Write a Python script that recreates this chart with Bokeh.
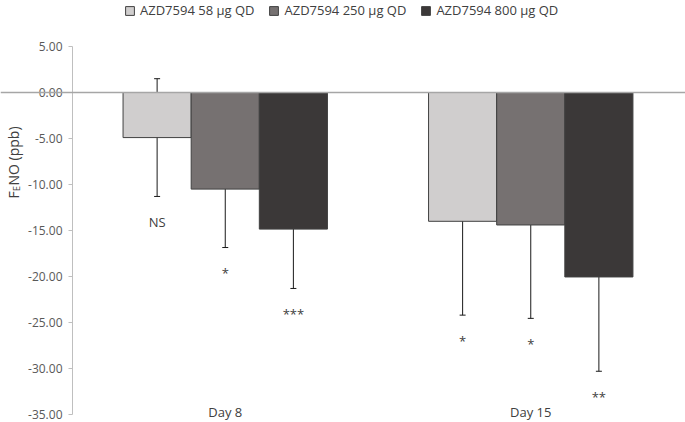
import math
from bokeh.plotting import figure
from bokeh.models import (ColumnDataSource, Range1d, FixedTicker,
                          PrintfTickFormatter, Whisker, TeeHead, Span, Legend,
                          LegendItem, Label, LabelSet)
from bokeh.transform import dodge
from bokeh.core.properties import value
from bokeh.embed import file_html
from bokeh.resources import INLINE

# ---------------- data ----------------
days = ["Day 8", "Day 15"]
series_names = ["AZD7594 58 µg QD", "AZD7594 250 µg QD", "AZD7594 800 µg QD"]
mean_58 = [-4.9, -14.0]
mean_250 = [-10.5, -14.4]
mean_800 = [-14.85, -20.05]
sd_58 = [6.4, 10.2]
sd_250 = [6.35, 10.15]
sd_800 = [6.45, 10.25]
sig_58 = ["NS", "*"]
sig_250 = ["*", "*"]
sig_800 = ["***", "**"]
y_ticks = [5, 0, -5, -10, -15, -20, -25, -30, -35]
y_label_main = "F"
y_label_sub = "E"
y_label_rest = "NO (ppb)"

# ---------------- style / layout ----------------
FONT = "Open Sans"
colors = ["#D0CECE", "#767171", "#3B3838"]
offsets = [-0.223, 0.0, 0.223]
bar_w = 0.223
W, H = 685, 422
PX_X = 305.5            # pixels per category
PX_Y = 9.2              # pixels per y unit
AXIS_PX = 72            # pixel x of the value axis
TOP_PX = 46             # pixel y of the value 5
text_col = "#404040"

x_start = -AXIS_PX / PX_X
x_end = x_start + W / PX_X
y_end = 5 + TOP_PX / PX_Y
y_start = y_end - H / PX_Y

x_centers = [i + 0.5 for i in range(len(days))]   # category slots on the axis

p = figure(x_range=Range1d(x_start, x_end), y_range=Range1d(y_start, y_end),
           width=W, height=H, output_backend="svg", toolbar_location=None,
           x_axis_location=None, min_border=0,
           min_border_left=0, min_border_right=0,
           min_border_top=0, min_border_bottom=0)
p.grid.visible = False
p.outline_line_color = None
p.background_fill_color = "white"

ax = p.yaxis[0]
ax.fixed_location = 0
ax.bounds = (min(y_ticks), max(y_ticks))
ax.ticker = FixedTicker(ticks=y_ticks)
ax.formatter = PrintfTickFormatter(format="%.2f")
ax.axis_line_color = "#BFBFBF"
ax.major_tick_line_color = "#BFBFBF"
ax.major_tick_out = 4
ax.major_tick_in = 0
ax.minor_tick_line_color = None
ax.major_label_text_font = FONT
ax.major_label_text_font_size = "12px"
ax.major_label_text_color = "#595959"
ax.major_label_standoff = 6

means = [mean_58, mean_250, mean_800]
sds = [sd_58, sd_250, sd_800]
sigs = [sig_58, sig_250, sig_800]

items = []
for name, m, s, sig, c, off in zip(series_names, means, sds, sigs, colors, offsets):
    src = ColumnDataSource(dict(
        x=x_centers, mean=m,
        upper=[a + b for a, b in zip(m, s)],
        lower=[a - b for a, b in zip(m, s)],
        sig=sig,
        sig_y=[a - b - 1.8 for a, b in zip(m, s)],
    ))
    xpos = dodge("x", off)
    r = p.vbar(x=xpos, top="mean", bottom=0, width=bar_w, source=src,
               fill_color=c, line_color="#404040", line_width=1)
    items.append(LegendItem(label=name, renderers=[r]))
    wk = Whisker(base=xpos, upper="upper", lower="lower", source=src,
                 line_color="#1a1a1a", line_width=1,
                 upper_head=TeeHead(size=6, line_color="#1a1a1a", line_width=1),
                 lower_head=TeeHead(size=6, line_color="#1a1a1a", line_width=1))
    p.add_layout(wk)
    p.add_layout(LabelSet(x=xpos, y="sig_y", text="sig", source=src,
                          text_font=value(FONT), text_font_size="13px",
                          text_color=text_col,
                          text_align="center", text_baseline="top"))

# category (x) axis line at zero, across the whole plot area
p.add_layout(Span(location=0, dimension="width", line_color="#A6A6A6", line_width=1.5))

day_src = ColumnDataSource(dict(x=x_centers, days=days, y=[-34.78] * len(days)))
p.add_layout(LabelSet(x="x", y="y", text="days", source=day_src,
                      text_font=value(FONT), text_font_size="13px", text_color=text_col,
                      text_align="center", text_baseline="middle"))

legend = Legend(items=items, orientation="horizontal", location=(124, H - 19),
                glyph_width=11, glyph_height=11, label_standoff=5, spacing=14,
                padding=0, margin=0, border_line_color=None, background_fill_alpha=0,
                label_text_font=FONT, label_text_font_size="13px",
                label_text_color=text_col, label_height=11)
p.add_layout(legend)

# y axis title with subscript, rotated (screen units = canvas pixels here)
start_py = 198
xb = 13
lbl = dict(angle=math.pi / 2, text_font=FONT, text_color=text_col,
           text_baseline="alphabetic", text_align="left",
           x_units="screen", y_units="screen")
p.add_layout(Label(x=xb, y=H - start_py, text=y_label_main, text_font_size="14px", **lbl))
p.add_layout(Label(x=xb + 3, y=H - (start_py - 7.4), text=y_label_sub, text_font_size="9px", **lbl))
p.add_layout(Label(x=xb, y=H - (start_py - 13.0), text=y_label_rest, text_font_size="14px", **lbl))

open("out.html", "w").write(file_html(p, INLINE))
